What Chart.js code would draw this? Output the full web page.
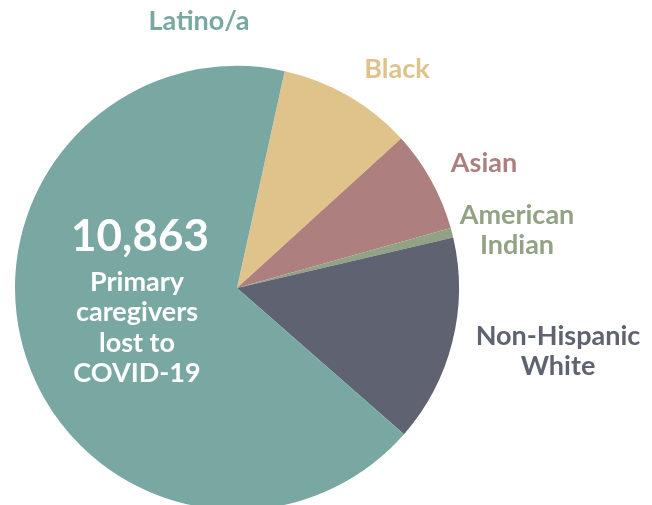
<!DOCTYPE html>
<html>
<head>
<meta charset="utf-8">
<script src="https://cdn.jsdelivr.net/npm/chart.js@4/dist/chart.umd.min.js"></script>
<style>
  html, body { margin: 0; padding: 0; background: #fff; overflow: hidden; }
  #wrap { position: relative; width: 652px; height: 520px; }
</style>
</head>
<body>
<div id="wrap"><canvas id="pie"></canvas></div>
<script>
// Primary caregivers lost, by race/ethnicity (clockwise from Black)
const groups = ['Black', 'Asian', 'American Indian', 'Non-Hispanic White', 'Latino/a'];
const caregivers = [1065, 804, 76, 1640, 7278];
const sliceColors = ['#e0c28b', '#ad7f7e', '#92a285', '#5f6271', '#79a8a3'];
const totalLabel = '10,863';
const centerLines = ['Primary', 'caregivers', 'lost to', 'COVID-19'];

// label lines + offset from pie centre (px)
const labelStyle = [
  { lines: ['Black'], dx: 160, dy: -219 },
  { lines: ['Asian'], dx: 247, dy: -125 },
  { lines: ['American', 'Indian'], dx: 280, dy: -73 },
  { lines: ['Non-Hispanic', 'White'], dx: 321, dy: 48 },
  { lines: ['Latino/a'], dx: -38, dy: -267 }
];

const FONT = 'Lato, "Open Sans", sans-serif';

const labelPlugin = {
  id: 'pieLabels',
  afterDraw(chart) {
    const ctx = chart.ctx;
    const arc = chart.getDatasetMeta(0).data[0];
    const cx = arc.x, cy = arc.y;
    ctx.save();
    ctx.textAlign = 'center';
    ctx.textBaseline = 'middle';
    ctx.font = 'bold 27px ' + FONT;
    labelStyle.forEach((l, i) => {
      ctx.fillStyle = sliceColors[i];
      l.lines.forEach((t, j) => ctx.fillText(t, cx + l.dx, cy + l.dy + j * 30));
    });
    // centre text on the Latino/a slice
    ctx.fillStyle = '#ffffff';
    ctx.font = 'bold 44px ' + FONT;
    ctx.fillText(totalLabel, cx - 97, cy - 51);
    ctx.font = 'bold 27px ' + FONT;
    centerLines.forEach((t, j) => ctx.fillText(t, cx - 100, cy - 6 + j * 30.5));
    ctx.restore();
  }
};

new Chart(document.getElementById('pie'), {
  type: 'pie',
  data: {
    labels: groups,
    datasets: [{
      data: caregivers,
      backgroundColor: sliceColors,
      borderWidth: 0
    }]
  },
  options: {
    responsive: true,
    maintainAspectRatio: false,
    animation: false,
    rotation: 12.4,
    layout: { padding: { left: 15, right: 193, top: 66, bottom: 10 } },
    plugins: {
      legend: { display: false },
      tooltip: { enabled: false }
    }
  },
  plugins: [labelPlugin]
});
</script>
</body>
</html>
